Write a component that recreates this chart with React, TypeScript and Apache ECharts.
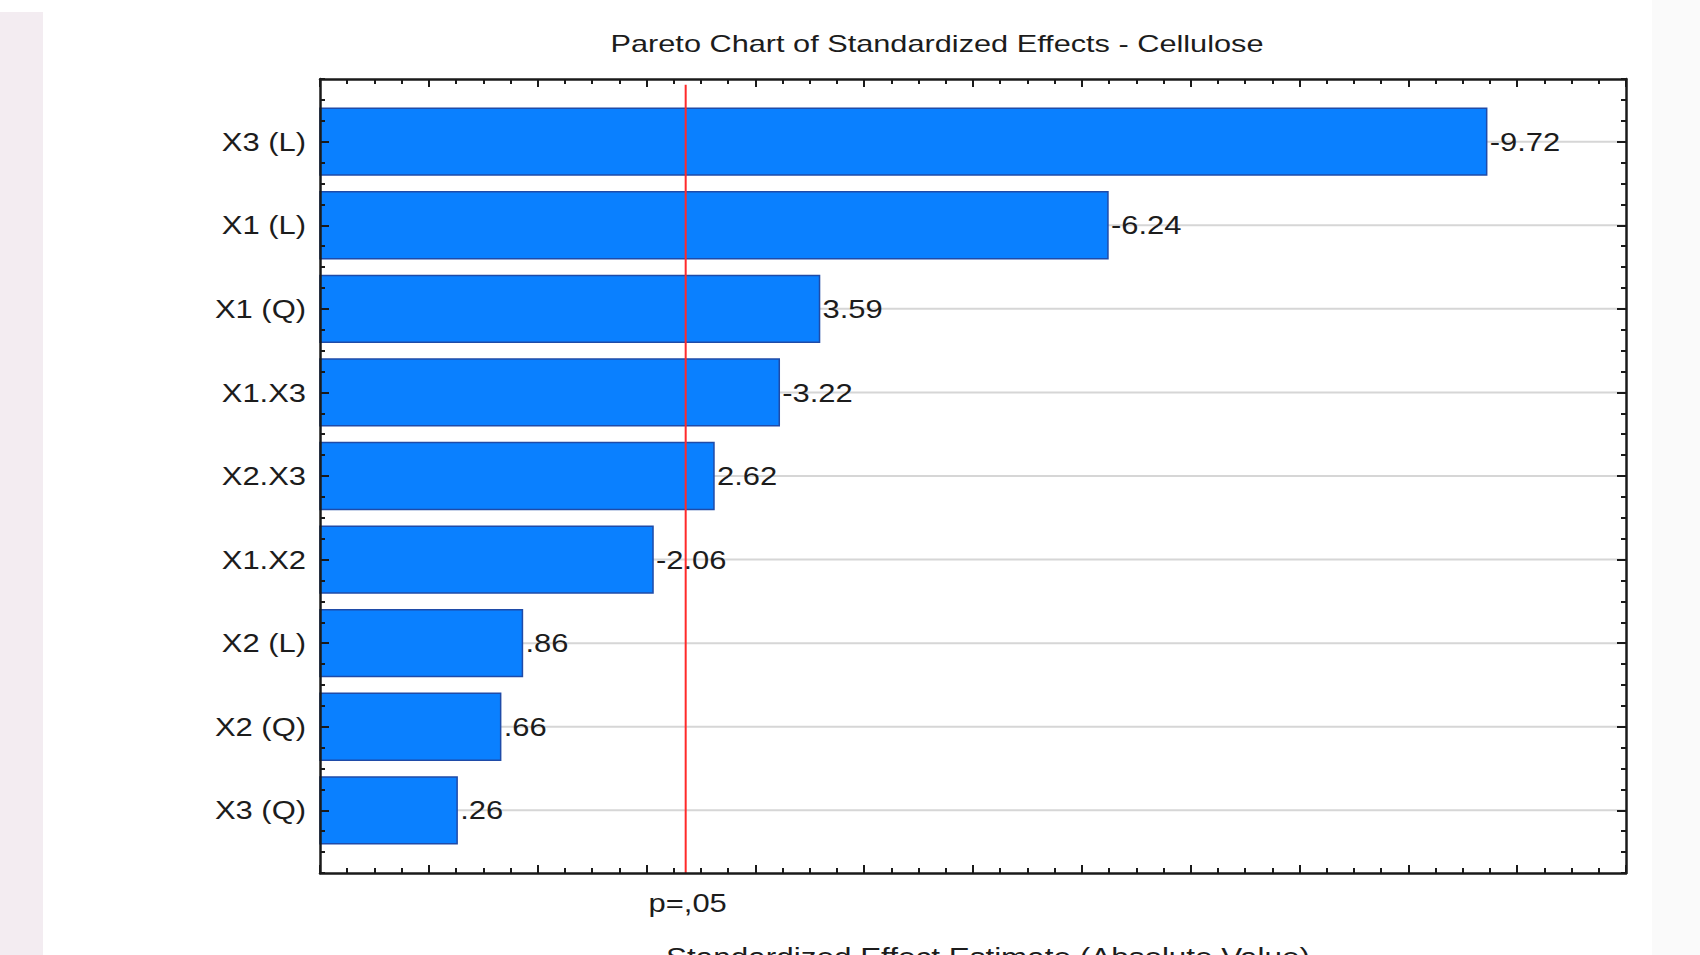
import React, { useEffect, useRef } from 'react';
import * as echarts from 'echarts';

// Effect names, ordered from largest to smallest absolute effect
const categories = ['X3 (L)', 'X1 (L)', 'X1 (Q)', 'X1.X3', 'X2.X3', 'X1.X2', 'X2 (L)', 'X2 (Q)', 'X3 (Q)'];
// Signed standardized effect estimates (t values)
const effects = [-9.72, -6.24, 3.59, -3.22, 2.62, -2.06, 0.86, 0.66, 0.26];
// Critical t value for p = .05
const pCritical = 2.36;
const pLabel = 'p=,05';
const chartTitle = 'Pareto Chart of Standardized Effects - Cellulose';
const xAxisTitle = 'Standardized Effect Estimate (Absolute Value)';

const X_MIN = -1;
const X_MAX = 11;
const Y_MIN = -0.75;
const Y_MAX = 8.75;
const P_LINE_TOP = -0.68;
const BAR_RATIO = 0.8;

const FONT = '"Liberation Sans", Arial, Helvetica, sans-serif';
const TEXT_COLOR = '#1c1c1c';
const AXIS_COLOR = '#1a1a1a';
const WIDE = 1.19;

// Statistica-style number format: drop the leading zero (".86", "-2.06")
const fmt = (v: number) => v.toFixed(2).replace(/^(-?)0\./, '$1.');

const rows = effects.map((e, i) => [i, Math.abs(e), e]);
const majorRows = categories.map((_, i) => i);

function frameX(position: 'top' | 'bottom') {
  return {
    type: 'value',
    position,
    min: X_MIN,
    max: X_MAX,
    interval: 1,
    z: 10,
    axisLine: { show: true, onZero: false, lineStyle: { color: AXIS_COLOR, width: 2.5 } },
    axisTick: { show: true, inside: true, length: 8, lineStyle: { color: AXIS_COLOR, width: 2 } },
    minorTick: { show: true, splitNumber: 4, length: 5, lineStyle: { color: AXIS_COLOR, width: 2 } },
    axisLabel: { show: false },
    splitLine: { show: false },
  };
}

function frameY(position: 'left' | 'right', major: boolean) {
  return {
    type: 'value',
    position,
    inverse: true,
    min: Y_MIN,
    max: Y_MAX,
    interval: 0.25,
    z: 10,
    axisLine: { show: !major, onZero: false, lineStyle: { color: AXIS_COLOR, width: 2.5 } },
    axisTick: major
      ? { show: true, inside: true, length: 9, customValues: majorRows, lineStyle: { color: AXIS_COLOR, width: 2 } }
      : { show: true, inside: true, length: 5, lineStyle: { color: AXIS_COLOR, width: 2 } },
    axisLabel: { show: false },
    splitLine: { show: false },
  };
}

export default function App() {
  const ref = useRef<HTMLDivElement>(null);

  useEffect(() => {
    if (!ref.current) return;
    const chart = echarts.init(ref.current, undefined, { renderer: 'svg' });

    const option: any = {
      animation: false,
      backgroundColor: '#ffffff',
      grid: { left: 320, right: 74, top: 79, bottom: 82, containLabel: false },
      xAxis: [frameX('bottom'), frameX('top')],
      yAxis: [frameY('left', false), frameY('right', false), frameY('left', true), frameY('right', true)],
      graphic: [
        { type: 'rect', silent: true, z: -10, shape: { x: 0, y: 12, width: 43, height: 943 }, style: { fill: '#f3ecf1' } },
        { type: 'rect', silent: true, z: -10, shape: { x: 1652, y: 0, width: 48, height: 955 }, style: { fill: '#fafafa' } },
        {
          type: 'text',
          x: 937,
          y: 44,
          scaleX: 1.28,
          style: {
            text: chartTitle,
            font: `24px ${FONT}`,
            fill: TEXT_COLOR,
            align: 'center',
            verticalAlign: 'middle',
            textAlign: 'center',
            textVerticalAlign: 'middle',
          },
        },
        {
          type: 'text',
          x: 988,
          y: 957,
          scaleX: 1.21,
          style: {
            text: xAxisTitle,
            font: `26px ${FONT}`,
            fill: TEXT_COLOR,
            align: 'center',
            verticalAlign: 'middle',
            textAlign: 'center',
            textVerticalAlign: 'middle',
          },
        },
      ],
      series: [
        {
          // gridlines and bars, starting from the left edge of the axis
          type: 'custom',
          name: 'effects',
          z: 2,
          encode: { x: 1, y: 0 },
          data: rows,
          renderItem: (params: any, api: any) => {
            const i = api.value(0);
            const v = api.value(1);
            const start = api.coord([X_MIN, i]);
            const end = api.coord([v, i]);
            const right = api.coord([X_MAX, i]);
            const h = api.size([0, 1])[1] * BAR_RATIO;
            return {
              type: 'group',
              children: [
                {
                  type: 'line',
                  shape: { x1: start[0], y1: start[1], x2: right[0], y2: right[1] },
                  style: { stroke: '#d6d6d6', lineWidth: 2 },
                },
                {
                  type: 'rect',
                  shape: { x: start[0], y: start[1] - h / 2, width: end[0] - start[0], height: h },
                  style: { fill: '#0a80ff', stroke: '#1f4ba8', lineWidth: 1.5 },
                },
              ],
            };
          },
        },
        {
          // significance threshold
          type: 'custom',
          name: 'p',
          z: 3,
          encode: { x: 0, y: 1 },
          data: [[pCritical, Y_MAX]],
          renderItem: (params: any, api: any) => {
            const x = api.value(0);
            const top = api.coord([x, P_LINE_TOP]);
            const bottom = api.coord([x, Y_MAX]);
            return {
              type: 'group',
              children: [
                {
                  type: 'line',
                  shape: { x1: top[0], y1: top[1], x2: bottom[0], y2: bottom[1] },
                  style: { stroke: '#ff2a2a', lineWidth: 2 },
                },
                {
                  type: 'text',
                  x: bottom[0] + 2,
                  y: bottom[1] + 30,
                  scaleX: WIDE,
                  style: {
                    text: pLabel,
                    font: `26px ${FONT}`,
                    fill: TEXT_COLOR,
                    align: 'center',
                    verticalAlign: 'middle',
                    textAlign: 'center',
                    textVerticalAlign: 'middle',
                  },
                },
              ],
            };
          },
        },
        {
          // value labels and effect names
          type: 'custom',
          name: 'labels',
          z: 4,
          encode: { x: 1, y: 0 },
          data: rows,
          renderItem: (params: any, api: any) => {
            const i = api.value(0);
            const v = api.value(1);
            const signed = api.value(2);
            const start = api.coord([X_MIN, i]);
            const end = api.coord([v, i]);
            return {
              type: 'group',
              children: [
                {
                  type: 'text',
                  x: end[0] + 3,
                  y: end[1],
                  scaleX: WIDE,
                  style: {
                    text: fmt(signed),
                    font: `26px ${FONT}`,
                    fill: TEXT_COLOR,
                    align: 'left',
                    verticalAlign: 'middle',
                    textAlign: 'left',
                    textVerticalAlign: 'middle',
                  },
                },
                {
                  type: 'text',
                  x: start[0] - 14,
                  y: start[1],
                  scaleX: WIDE,
                  style: {
                    text: categories[params.dataIndex],
                    font: `26px ${FONT}`,
                    fill: TEXT_COLOR,
                    align: 'right',
                    verticalAlign: 'middle',
                    textAlign: 'right',
                    textVerticalAlign: 'middle',
                  },
                },
              ],
            };
          },
        },
      ],
    };

    chart.setOption(option);
    return () => chart.dispose();
  }, []);

  return (
    <div
      ref={ref}
      style={{ position: 'fixed', left: 0, top: 0, width: 1700, height: 955, background: '#ffffff' }}
    />
  );
}
